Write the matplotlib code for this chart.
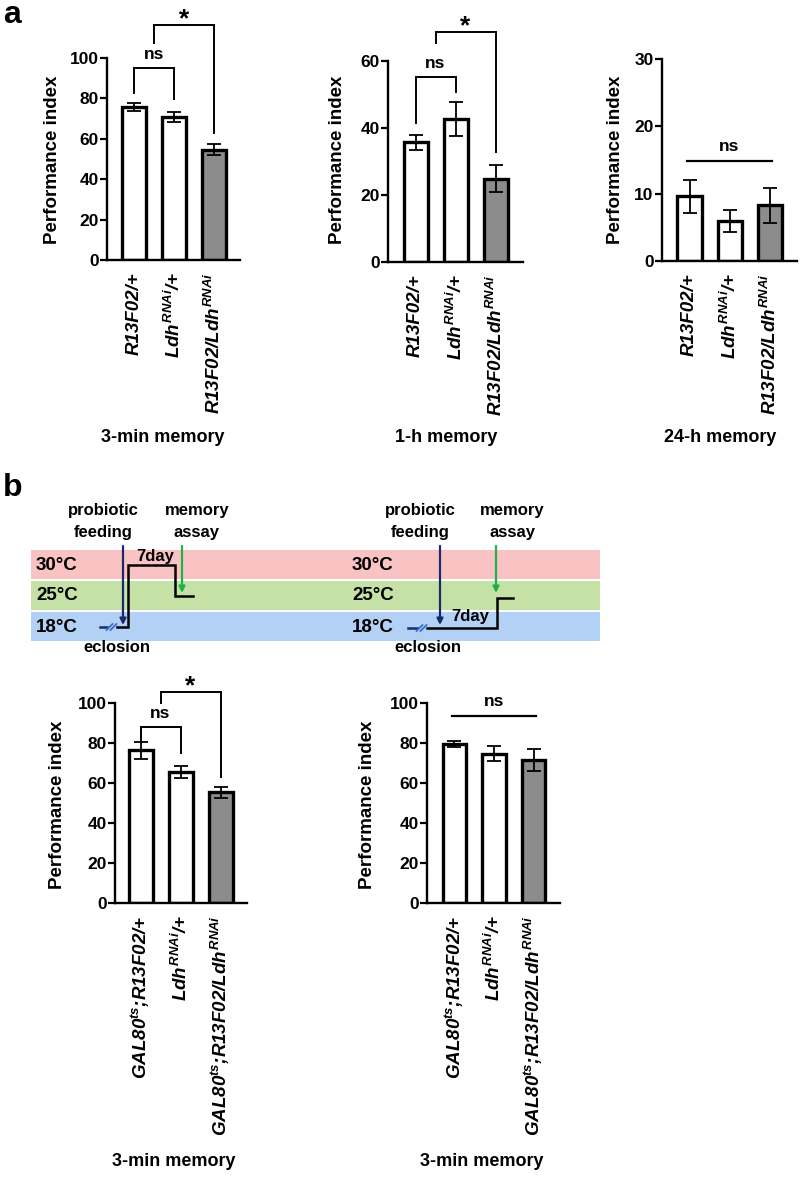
import matplotlib
matplotlib.use("Agg")
import matplotlib.pyplot as plt
from matplotlib.patches import Rectangle

plt.rcParams['font.family'] = ['Liberation Sans', 'DejaVu Sans']
plt.rcParams['font.weight'] = 'bold'
plt.rcParams['mathtext.fontset'] = 'custom'
plt.rcParams['mathtext.it'] = 'Liberation Sans:italic:bold'
plt.rcParams['mathtext.rm'] = 'Liberation Sans:italic:bold'
plt.rcParams['mathtext.bf'] = 'Liberation Sans:italic:bold'

# ---------------- data ----------------
genotypes_a = ['R13F02/+', r'$Ldh^{RNAi}$/+', r'R13F02/$Ldh^{RNAi}$']
genotypes_b = [r'$GAL80^{ts}$;R13F02/+', r'$Ldh^{RNAi}$/+', r'$GAL80^{ts}$;R13F02/$Ldh^{RNAi}$']
bar_colors = ['white', 'white', '#8c8c8c']

a_3min_mean = [75.7, 70.8, 54.6]
a_3min_sem = [2.0, 2.7, 2.7]
a_1h_mean = [35.7, 42.6, 24.9]
a_1h_sem = [2.2, 5.1, 4.0]
a_24h_mean = [9.6, 5.9, 8.3]
a_24h_sem = [2.5, 1.65, 2.6]
b_left_mean = [76.3, 65.3, 55.4]
b_left_sem = [4.2, 3.0, 2.7]
b_right_mean = [79.6, 74.6, 71.6]
b_right_sem = [1.4, 3.7, 5.5]

a_3min_ticks = [0, 20, 40, 60, 80, 100]
a_1h_ticks = [0, 20, 40, 60]
a_24h_ticks = [0, 10, 20, 30]
b_ticks = [0, 20, 40, 60, 80, 100]

# brackets: (x_left, x_right, y_top, left_leg_bottom, right_leg_bottom, label)
a_3min_brackets = [(0, 1, 94.9, 82.5, 79.5, 'ns'), (0.5, 2, 116.3, 107.6, 62.7, '*')]
a_1h_brackets = [(0, 1, 55.3, 41.4, 50.8, 'ns'), (0.5, 2, 68.8, 65.3, 32.9, '*')]
a_24h_lines = [(-0.07, 2.05, 14.9, 'ns')]
b_left_brackets = [(0, 1, 87.9, 80.8, 75.0, 'ns'), (0.5, 2, 105.4, 100.0, 63.2, '*')]
b_right_lines = [(-0.07, 2.06, 93.7, 'ns')]

xlabels = ['3-min memory', '1-h memory', '24-h memory', '3-min memory', '3-min memory']

W, H = 800, 1177
fig = plt.figure(figsize=(W / 100, H / 100), dpi=100)

ov = fig.add_axes([0, 0, 1, 1])
ov.set_xlim(0, W)
ov.set_ylim(H, 0)
ov.axis('off')
ov.patch.set_visible(False)


def pxax(l, r, t, b, c0, sp):
    ax = fig.add_axes([l / W, 1 - b / H, (r - l) / W, (b - t) / H])
    ax.set_xlim((l - c0) / sp, (r - c0) / sp)
    return ax


def draw_bars(ax, labels, means, sems, ticks):
    x = list(range(len(means)))
    ax.bar(x, means, width=0.6, color=bar_colors, edgecolor='black', linewidth=2.4, zorder=2)
    ax.errorbar(x, means, yerr=sems, fmt='none', ecolor='black', elinewidth=1.3,
                capsize=5.2, capthick=1.3, zorder=3)
    ax.set_ylim(ticks[0], ticks[-1])
    ax.set_yticks(ticks)
    ax.set_yticklabels([str(t) for t in ticks], fontsize=12.5, fontweight='bold')
    ax.tick_params(axis='y', length=5, width=1.6, pad=1)
    ax.tick_params(axis='x', length=0, pad=9)
    ax.set_xticks(x)
    ax.set_xticklabels(labels, rotation=90, ha='center', va='top', fontsize=13.5,
                       fontstyle='italic', fontweight='bold')
    for s in ['top', 'right']:
        ax.spines[s].set_visible(False)
    for s in ['left', 'bottom']:
        ax.spines[s].set_linewidth(1.7)
    ax.patch.set_visible(False)


def draw_brackets(ax, brackets, ymax):
    for xl, xr, yt, bl, br, lab in brackets:
        ax.plot([xl, xl, xr, xr], [bl, yt, yt, br], color='black', lw=1.4,
                clip_on=False, solid_joinstyle='miter')
        xm = (xl + xr) / 2
        if lab == '*':
            ax.annotate(lab, xy=(xm, yt), xytext=(0, -1), textcoords='offset points',
                        ha='center', va='baseline', fontsize=19, fontweight='bold',
                        annotation_clip=False)
        else:
            ax.text(xm, yt + ymax * 0.03, lab, ha='center', va='bottom', fontsize=12.5,
                    fontweight='bold', clip_on=False)


def draw_lines(ax, lines, ymax):
    for xl, xr, y, lab in lines:
        ax.plot([xl, xr], [y, y], color='black', lw=1.6, clip_on=False)
        ax.text((xl + xr) / 2, y + ymax * 0.035, lab, ha='center', va='bottom', fontsize=12.5,
                fontweight='bold', clip_on=False)


a1 = pxax(107, 240, 58, 260, 134, 40)
draw_bars(a1, genotypes_a, a_3min_mean, a_3min_sem, a_3min_ticks)
draw_brackets(a1, a_3min_brackets, 100)

a2 = pxax(388, 523, 61, 262, 415.5, 40)
draw_bars(a2, genotypes_a, a_1h_mean, a_1h_sem, a_1h_ticks)
draw_brackets(a2, a_1h_brackets, 60)

a3 = pxax(662, 797, 59, 261, 689.5, 40.25)
draw_bars(a3, genotypes_a, a_24h_mean, a_24h_sem, a_24h_ticks)
draw_lines(a3, a_24h_lines, 30)

b1 = pxax(115, 247, 703, 903, 140.5, 40)
draw_bars(b1, genotypes_b, b_left_mean, b_left_sem, b_ticks)
draw_brackets(b1, b_left_brackets, 100)

b2 = pxax(427, 560, 703, 903, 454.5, 39.5)
draw_bars(b2, genotypes_b, b_right_mean, b_right_sem, b_ticks)
draw_lines(b2, b_right_lines, 100)

# y labels
for (x, y) in [(53, 160), (338, 160), (615, 160), (58, 805), (367, 805)]:
    ov.text(x, y, 'Performance index', rotation=90, ha='center', va='center',
            fontsize=13.5, fontweight='bold')
# x labels
for (x, y), lab in zip([(163, 438), (446, 438), (720, 438), (174, 1162), (482, 1162)], xlabels):
    ov.text(x, y, lab, ha='center', va='center', fontsize=13, fontweight='bold')

# panel letters
ov.text(3, 15, 'a', ha='left', va='center', fontsize=23, fontweight='bold')
ov.text(3, 488, 'b', ha='left', va='center', fontsize=23, fontweight='bold')

# ---------------- schematic (panel b top) ----------------
band_colors = ['#f9c3c3', '#c5e1a5', '#b3d1f5']
band_labels = ['30\u00b0C', '25\u00b0C', '18\u00b0C']
band_tops = [550, 581, 612]
for top, c in zip(band_tops, band_colors):
    ov.add_patch(Rectangle((31, top), 569, 29, facecolor=c, edgecolor='none', zorder=0))
for top, lab in zip(band_tops, band_labels):
    ov.text(36, top + 15, lab, ha='left', va='center', fontsize=13.5, fontweight='bold')
    ov.text(352, top + 15, lab, ha='left', va='center', fontsize=13.5, fontweight='bold')

navy = '#1a2a6c'
green = '#1fb24a'
slash_blue = '#3d6fd0'


def schematic(xs, ys, break_x, feed_x, assay_x, assay_y, day_xy, feed_text_x, assay_text_x, ecl_x):
    ov.plot([xs[0], break_x - 4], [ys[0], ys[0]], color=navy, lw=1.8, zorder=3)
    for dx in (-1.5, 2.5):
        ov.plot([break_x + dx - 3, break_x + dx + 3], [ys[0] + 3, ys[0] - 3], color=slash_blue,
                lw=1.3, zorder=3)
    ov.plot([break_x + 6] + list(xs[1:]), [ys[0]] + list(ys[1:]), color='black', lw=1.8,
            zorder=3, solid_joinstyle='miter')
    ov.annotate('', xy=(feed_x, 625), xytext=(feed_x, 546),
                arrowprops=dict(arrowstyle='-|>', color=navy, lw=1.6, mutation_scale=9,
                                shrinkA=0, shrinkB=0), zorder=4)
    ov.annotate('', xy=(assay_x, assay_y), xytext=(assay_x, 546),
                arrowprops=dict(arrowstyle='-|>', color=green, lw=1.6, mutation_scale=9,
                                shrinkA=0, shrinkB=0), zorder=4)
    ov.text(day_xy[0], day_xy[1], '7day', ha='center', va='center', fontsize=12,
            fontweight='bold', zorder=5)
    ov.text(feed_text_x, 510, 'probiotic', ha='center', va='center', fontsize=12, fontweight='bold')
    ov.text(feed_text_x, 533, 'feeding', ha='center', va='center', fontsize=12, fontweight='bold')
    ov.text(assay_text_x, 510, 'memory', ha='center', va='center', fontsize=12, fontweight='bold')
    ov.text(assay_text_x, 533, 'assay', ha='center', va='center', fontsize=12, fontweight='bold')
    ov.text(ecl_x, 648, 'eclosion', ha='center', va='center', fontsize=12, fontweight='bold')


schematic(xs=[100, 128, 128, 175, 175, 193], ys=[627, 627, 565, 565, 596, 596], break_x=111,
          feed_x=123, assay_x=182, assay_y=593, day_xy=(155, 556),
          feed_text_x=103, assay_text_x=197, ecl_x=117)
schematic(xs=[408, 497, 497, 513], ys=[628, 628, 598, 598], break_x=421,
          feed_x=440, assay_x=496, assay_y=593, day_xy=(470, 617),
          feed_text_x=420, assay_text_x=512, ecl_x=428)

fig.savefig('out.png', dpi=100)
